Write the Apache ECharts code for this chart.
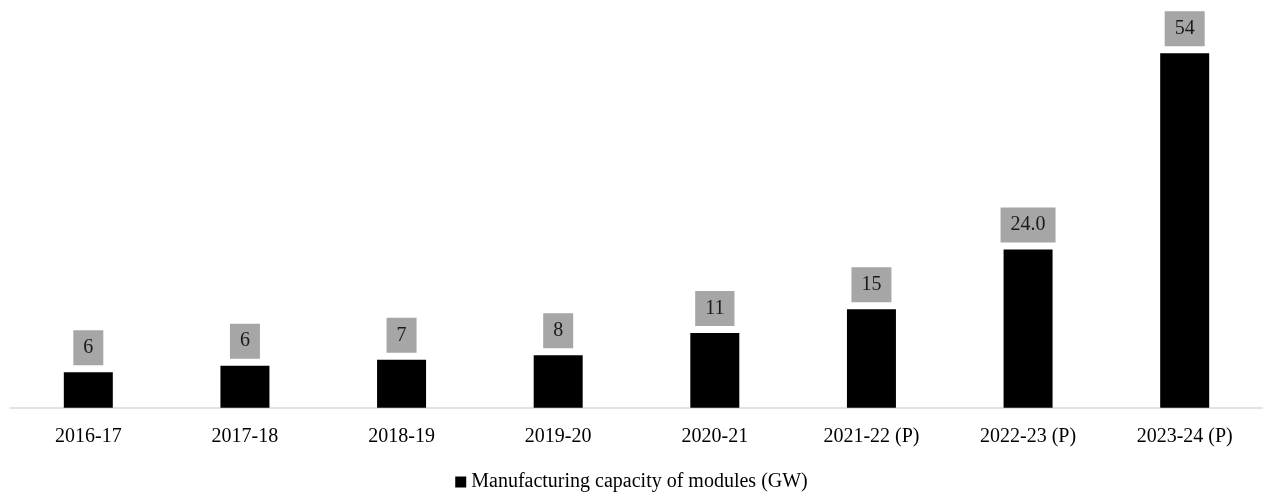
<!DOCTYPE html>
<html>
<head>
<meta charset="utf-8">
<script src="https://cdn.jsdelivr.net/npm/echarts@6/dist/echarts.min.js"></script>
<style>html,body{margin:0;padding:0;background:#fff;}#chart{width:1263px;height:492px;}</style>
</head>
<body>
<div id="chart"></div>
<script>
var categories = ["2016-17", "2017-18", "2018-19", "2019-20", "2020-21", "2021-22 (P)", "2022-23 (P)", "2023-24 (P)"];
var capacityValues = [5.4, 6.4, 7.3, 8.0, 11.4, 15.0, 24.1, 54];
var capacityLabels = ["6", "6", "7", "8", "11", "15", "24.0", "54"];
var seriesName = "Manufacturing capacity of modules (GW)";

var chart = echarts.init(document.getElementById('chart'));
var font = "'Liberation Serif', 'Times New Roman', serif";
chart.setOption({
  animation: false,
  backgroundColor: '#ffffff',
  grid: { left: 10, right: -10, top: 14, bottom: 84.3, containLabel: false },
  legend: {
    top: 472,
    left: 'center',
    padding: 0,
    data: [seriesName],
    icon: 'rect',
    itemWidth: 11,
    itemHeight: 11,
    itemGap: 5,
    textStyle: { fontFamily: font, fontSize: 20, color: '#000000' }
  },
  xAxis: {
    type: 'category',
    data: categories,
    axisLine: { lineStyle: { color: '#d9d9d9', width: 1.5 } },
    axisTick: { show: false },
    axisLabel: { fontFamily: font, fontSize: 20, color: '#000000', margin: 19 }
  },
  yAxis: {
    type: 'value',
    min: 0,
    max: 60,
    show: false,
    splitLine: { show: false }
  },
  series: [{
    name: seriesName,
    type: 'bar',
    data: capacityValues,
    barWidth: 49,
    itemStyle: { color: '#000000' },
    label: {
      show: true,
      position: 'top',
      distance: 7,
      formatter: function (p) { return capacityLabels[p.dataIndex]; },
      fontFamily: font,
      fontSize: 20,
      color: '#1a1a1a',
      backgroundColor: '#a6a6a6',
      padding: [7, 10, 7, 10],
      lineHeight: 21
    }
  }]
});
</script>
</body>
</html>
